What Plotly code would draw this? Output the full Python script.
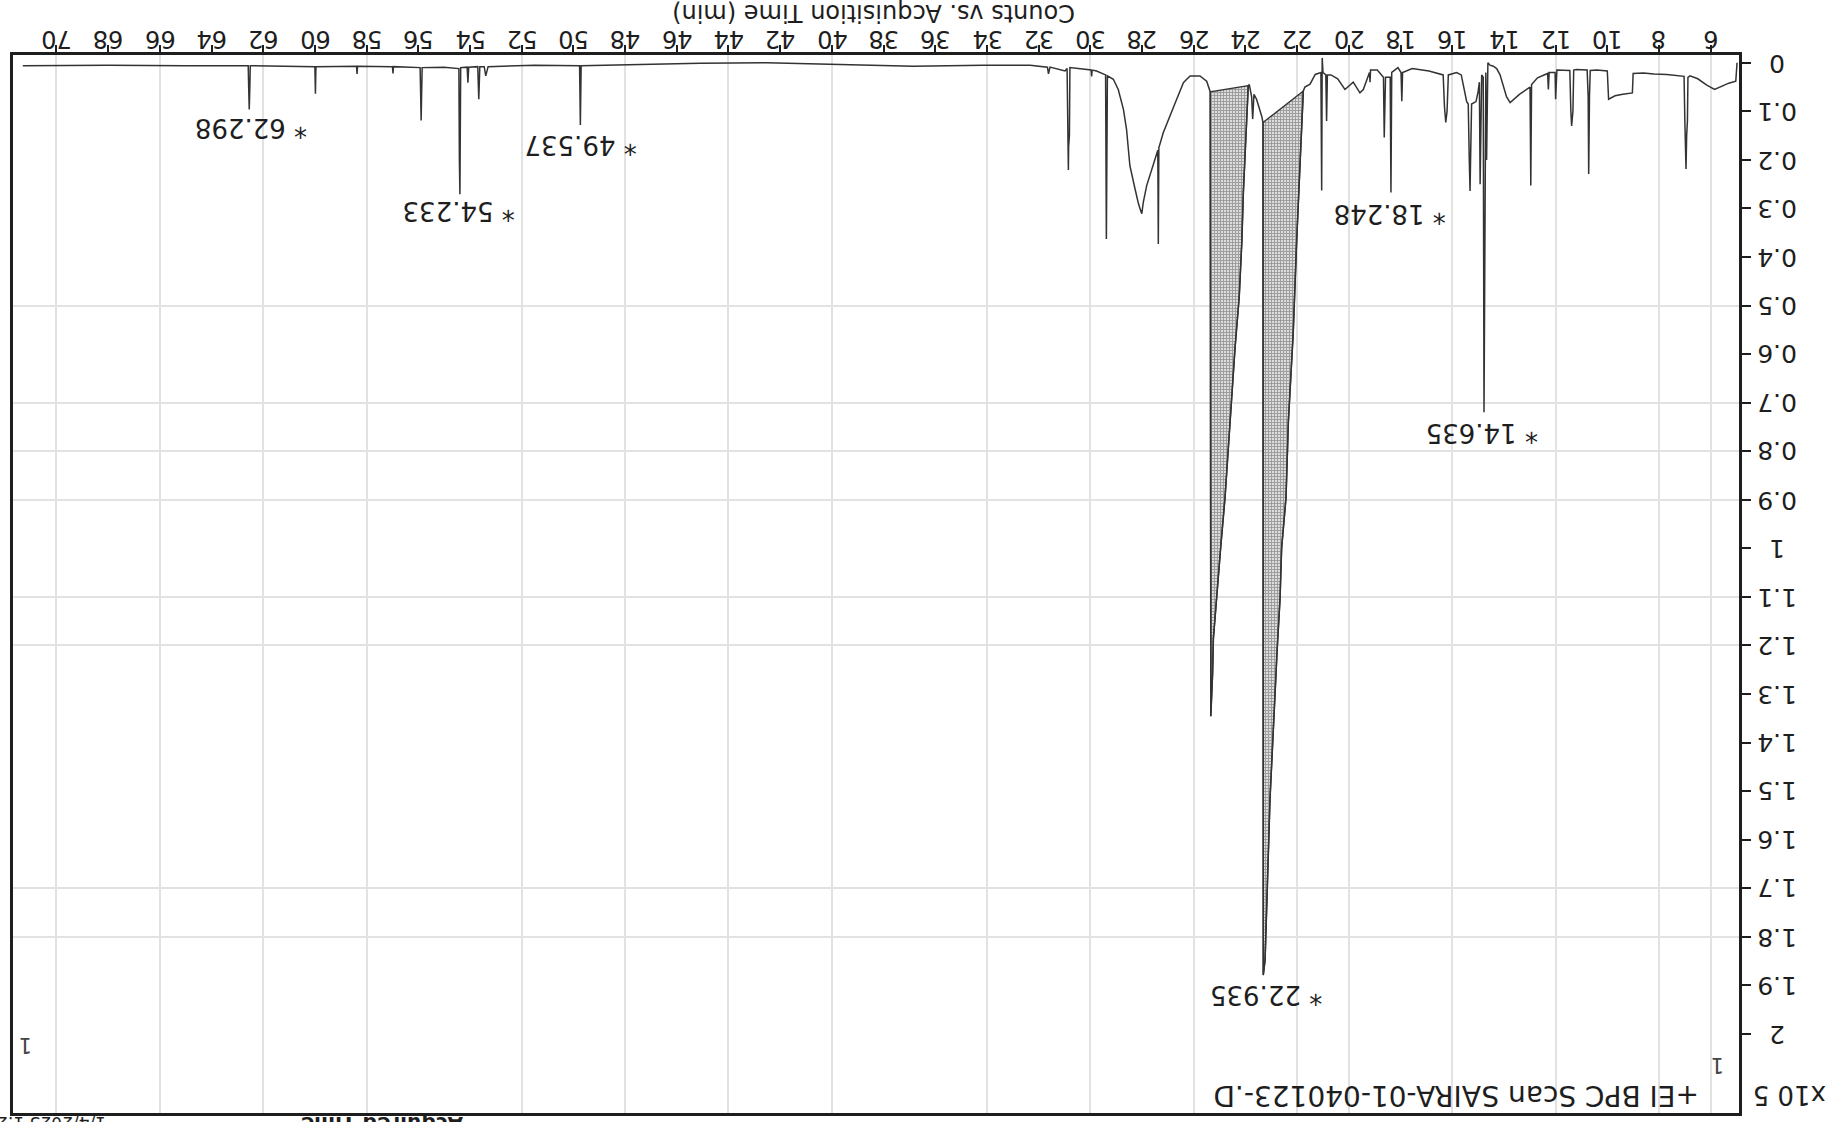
import plotly.graph_objects as go

# ---------------- data (values in x10^5 counts) -------------
rt = [4.98, 5.03, 5.3, 5.6, 5.85, 6.15, 6.5, 6.8, 6.88, 6.9, 6.93, 6.955, 6.97, 7.0, 7.03,
      7.3, 7.7, 8.2, 8.6, 9.0, 9.03, 9.4, 9.7, 9.95, 10.0, 10.4, 10.66, 10.69, 10.72, 10.74,
      10.78, 11.2, 11.3, 11.33, 11.38, 11.41, 11.45, 11.95, 12.0, 12.02, 12.25, 12.28, 12.31,
      12.7, 12.93, 12.96, 12.99, 13.4, 13.76, 13.9, 14.02, 14.15, 14.28, 14.41, 14.54, 14.62,
      14.67, 14.7, 14.77, 14.8, 14.86, 14.92, 14.95, 15.0, 15.08, 15.25, 15.29, 15.31, 15.34,
      15.38, 15.44, 15.57, 15.65, 15.83, 16.15, 16.2, 16.25, 16.3, 16.35, 16.9, 17.55, 17.92,
      17.95, 17.98, 18.1, 18.34, 18.37, 18.4, 18.58, 18.63, 18.66, 18.9, 19.16, 19.18, 19.2,
      19.44, 19.57, 19.83, 20.15, 20.43, 20.69, 20.83, 20.86, 20.89, 21.0, 21.03, 21.05, 21.08,
      21.3, 21.5, 21.7,
      21.76, 21.82, 21.88, 22.02, 22.15, 22.34, 22.43, 22.6, 22.66, 22.77, 22.92, 23.05, 23.15,
      23.24, 23.31, 23.32,
      23.37, 23.44, 23.57, 23.67, 23.72, 23.76, 23.82, 23.85,
      23.89, 24.08, 24.14, 24.17, 24.24, 24.4, 24.53, 24.66, 24.79, 24.96, 25.11, 25.24, 25.27,
      25.34, 25.36,
      25.5, 25.76, 26.14, 26.27, 26.4, 26.66, 26.92, 27.18, 27.35, 27.37, 27.39, 27.57, 27.82,
      27.95, 28.01, 28.08, 28.14, 28.27, 28.47, 28.6, 28.72, 28.92, 29.11, 29.34, 29.38, 29.41,
      29.76, 29.93, 29.95, 29.97, 30.4, 30.72, 30.79, 30.81, 30.84, 30.85, 30.87, 30.9, 30.98,
      31.56, 31.62, 31.66, 32.33, 34.14, 36.85, 39.94, 42.52, 45.1, 47.5, 49.7, 49.73, 49.76,
      51.5, 53.3, 53.39, 53.45, 53.62, 53.66, 53.7, 54.05, 54.08, 54.11, 54.36, 54.38, 54.39,
      54.41, 54.43, 55.0, 55.85, 55.87, 55.89, 55.91, 55.93, 56.96, 56.98, 57.0, 58.35, 58.37,
      58.39, 59.96, 59.98, 60.0, 62.5, 62.52, 62.54, 62.56, 62.58, 65.0, 68.0, 71.3]

counts = [0.0, 0.038, 0.042, 0.05, 0.055, 0.046, 0.033, 0.027, 0.03, 0.12, 0.15, 0.219, 0.15, 0.12, 0.028,
          0.026, 0.024, 0.023, 0.021, 0.022, 0.062, 0.065, 0.068, 0.075, 0.017, 0.015, 0.016, 0.07, 0.229, 0.07,
          0.015, 0.014, 0.015, 0.1, 0.13, 0.1, 0.016, 0.015, 0.075, 0.02, 0.02, 0.055, 0.022,
          0.031, 0.045, 0.253, 0.05, 0.065, 0.082, 0.07, 0.05, 0.025, 0.012, 0.007, 0.005, 0.0,
          0.2, 0.02, 0.72, 0.03, 0.025, 0.25, 0.04, 0.06, 0.08, 0.085, 0.2, 0.264, 0.2,
          0.085, 0.08, 0.05, 0.025, 0.02, 0.025, 0.1, 0.123, 0.09, 0.025, 0.017, 0.012, 0.02,
          0.079, 0.02, 0.01, 0.02, 0.267, 0.03, 0.03, 0.154, 0.03, 0.015, 0.015, 0.04, 0.02,
          0.055, 0.062, 0.04, 0.055, 0.033, 0.025, 0.025, 0.12, 0.025, 0.02, -0.01, 0.263, 0.02,
          0.024, 0.044, 0.05,
          0.058, 0.15, 0.2, 0.37, 0.555, 0.741, 0.896, 1.0, 1.103, 1.206, 1.362, 1.517, 1.693,
          1.848, 1.879, 0.123,
          0.11, 0.096, 0.075, 0.065, 0.116, 0.07, 0.047, 0.045,
          0.047, 0.267, 0.37, 0.40, 0.482, 0.586, 0.689, 0.793, 0.896, 1.0, 1.103, 1.186, 1.258,
          1.346, 0.06,
          0.038, 0.027, 0.027, 0.034, 0.041, 0.075, 0.11, 0.144, 0.175, 0.373, 0.18, 0.212, 0.253,
          0.287, 0.311, 0.30, 0.29, 0.26, 0.212, 0.137, 0.096, 0.055, 0.034, 0.027, 0.363, 0.025,
          0.017, 0.015, 0.028, 0.015, 0.012, 0.01, 0.01, 0.15, 0.173, 0.221, 0.15, 0.012, 0.017,
          0.009, 0.023, 0.009, 0.005, 0.005, 0.007, 0.003, 0.0, 0.001, 0.004, 0.006, 0.128, 0.006,
          0.005, 0.008, 0.027, 0.008, 0.008, 0.075, 0.008, 0.009, 0.041, 0.009, 0.01, 0.2, 0.271,
          0.2, 0.012, 0.009, 0.01, 0.06, 0.119, 0.06, 0.01, 0.008, 0.022, 0.008, 0.007, 0.023,
          0.007, 0.008, 0.064, 0.008, 0.006, 0.055, 0.096, 0.055, 0.006, 0.006, 0.005, 0.006]

# integrated (hatched) peaks: start / end retention times
integrated_peaks = [(21.76, 23.32), (23.89, 25.36)]

# peak annotations
peak_labels = ["* 62.298", "* 54.233", "* 49.537", "* 18.248", "* 14.635", "* 22.935"]
peak_label_rt = [62.47, 54.43, 49.73, 18.41, 14.85, 23.2]
peak_label_counts = [0.134, 0.305, 0.169, 0.31, 0.764, 1.92]

# axes
x_tick_values = [6, 8, 10, 12, 14, 16, 18, 20, 22, 24, 26, 28, 30, 32, 34, 36, 38, 40, 42, 44,
                 46, 48, 50, 52, 54, 56, 58, 60, 62, 64, 66, 68, 70]
x_tick_labels = [str(v) for v in x_tick_values]
y_tick_values = [0, 0.1, 0.2, 0.3, 0.4, 0.5, 0.6, 0.7, 0.8, 0.9, 1.0, 1.1, 1.2, 1.3, 1.4, 1.5,
                 1.6, 1.7, 1.8, 1.9, 2.0]
y_tick_labels = ["0", "0.1", "0.2", "0.3", "0.4", "0.5", "0.6", "0.7", "0.8", "0.9", "1", "1.1",
                 "1.2", "1.3", "1.4", "1.5", "1.6", "1.7", "1.8", "1.9", "2"]
x_grid = [6, 8, 12, 16, 20, 22, 26, 30, 34, 40, 44, 48, 52, 58, 62, 66, 70]
y_grid = [0.5, 0.7, 0.8, 0.9, 1.1, 1.2, 1.7, 1.8]

title_text = "+EI BPC Scan SAIRA-01-040123-.D"
axis_title = "Counts vs. Acquisition Time (min)"
scale_text = "x10 5"

# ---------------- figure -------------
W, H = 1843, 1122
ML, MR, MT, MB = 13, 104, 55, 6
PW, PH = W - ML - MR, H - MT - MB
FONT = "DejaVu Sans"
INK = "#1e1e1e"


def px(X, Y):
    return (X - ML) / PW, (H - MB - Y) / PH


fig = go.Figure()

for (t0, t1) in integrated_peaks:
    seg = [(t, c) for t, c in zip(rt, counts) if t0 <= t <= t1]
    xs = [p[0] for p in seg] + [seg[0][0]]
    ys = [p[1] for p in seg] + [seg[0][1]]
    fig.add_trace(go.Scatter(
        x=xs, y=ys, mode="lines", fill="toself",
        fillcolor="rgba(120,120,120,0.5)",
        fillpattern=dict(shape="+", size=3, solidity=0.5, fgcolor="#555555", bgcolor="#dcdcdc"),
        line=dict(color="#333333", width=1.4), hoverinfo="skip"))

fig.add_trace(go.Scatter(x=rt, y=counts, mode="lines",
                         line=dict(color="#333333", width=1.5), hoverinfo="x+y"))

ann = []
# x tick labels (upside down)
for v, lab in zip(x_tick_values, x_tick_labels):
    ann.append(dict(x=v, y=1, xref="x", yref="paper", yshift=16, text=lab, showarrow=False,
                    textangle=180, xanchor="center", yanchor="middle",
                    font=dict(family=FONT, size=24, color=INK)))
# y tick labels (upside down)
for v, lab in zip(y_tick_values, y_tick_labels):
    ann.append(dict(x=1, y=v, xref="paper", yref="y", xshift=38, text=lab, showarrow=False,
                    textangle=180, xanchor="center", yanchor="middle",
                    font=dict(family=FONT, size=25, color=INK)))
# peak labels
for t, c, lab in zip(peak_label_rt, peak_label_counts, peak_labels):
    ann.append(dict(x=t, y=c, xref="x", yref="y", text=lab, showarrow=False, textangle=180,
                    xanchor="center", yanchor="middle",
                    font=dict(family=FONT, size=26, color=INK)))
# axis title
ax, ay = px(874, 13)
ann.append(dict(x=ax, y=ay, xref="paper", yref="paper", text=axis_title, showarrow=False,
                textangle=180, xanchor="center", yanchor="middle",
                font=dict(family=FONT, size=24, color=INK)))
# chart title and scale
tx, ty = px(1456, 1099)
ann.append(dict(x=tx, y=ty, xref="paper", yref="paper", text=title_text, showarrow=False,
                textangle=180, xanchor="center", yanchor="middle",
                font=dict(family=FONT, size=28, color=INK)))
sx, sy = px(1790, 1098)
ann.append(dict(x=sx, y=sy, xref="paper", yref="paper", text=scale_text, showarrow=False,
                textangle=180, xanchor="center", yanchor="middle",
                font=dict(family=FONT, size=26, color=INK)))
# small "1" markers
for (X, Y) in [(1718, 1068), (26, 1048)]:
    mx, my = px(X, Y)
    ann.append(dict(x=mx, y=my, xref="paper", yref="paper", text="1", showarrow=False,
                    textangle=180, xanchor="center", yanchor="middle",
                    font=dict(family=FONT, size=21, color="#444")))
# cut-off page header text at the bottom edge
for (X, Y, txt, sz) in [(46, 1126, "1/4/2023 1:23", 17),
                        (382, 1127, "<b>Acquired Time</b>", 20)]:
    mx, my = px(X, Y)
    ann.append(dict(x=mx, y=my, xref="paper", yref="paper", text=txt, showarrow=False,
                    textangle=180, xanchor="center", yanchor="middle",
                    font=dict(family=FONT, size=sz, color=INK)))

fig.update_layout(
    width=W, height=H,
    margin=dict(l=ML, r=MR, t=MT, b=MB),
    paper_bgcolor="white", plot_bgcolor="white",
    showlegend=False,
    annotations=ann,
    xaxis=dict(range=[71.68, 4.905], side="top", showline=True, linecolor=INK, linewidth=3,
               mirror=True, zeroline=False, tickmode="array", tickvals=x_grid,
               ticks="outside", ticklen=7, tickwidth=1.5, tickcolor=INK, showticklabels=False,
               showgrid=True, gridcolor="#e2e2e2", gridwidth=1.5,
               minor=dict(tickmode="array", tickvals=x_tick_values, ticks="outside", ticklen=7,
                          tickwidth=1.5, tickcolor=INK, showgrid=False)),
    yaxis=dict(range=[2.163, -0.016], side="right", showline=True, linecolor=INK, linewidth=3,
               mirror=True, zeroline=False, tickmode="array", tickvals=y_grid,
               ticks="outside", ticklen=9, tickwidth=1.5, tickcolor=INK, showticklabels=False,
               showgrid=True, gridcolor="#e2e2e2", gridwidth=1.5,
               minor=dict(tickmode="array", tickvals=y_tick_values, ticks="outside", ticklen=9,
                          tickwidth=1.5, tickcolor=INK, showgrid=False)),
)

fig.write_html("out.html")
